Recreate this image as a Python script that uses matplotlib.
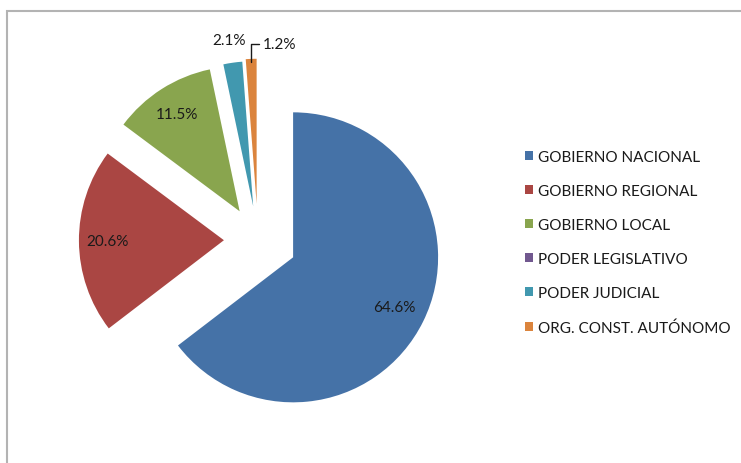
import numpy as np
import matplotlib.pyplot as plt
from matplotlib.patches import Rectangle, Patch

plt.rcParams['font.family'] = ['Lato', 'DejaVu Sans']

categorias = ["GOBIERNO NACIONAL", "GOBIERNO REGIONAL", "GOBIERNO LOCAL",
              "PODER LEGISLATIVO", "PODER JUDICIAL", "ORG. CONST. AUTÓNOMO"]
porcentajes = [64.6, 20.6, 11.5, 0.0, 2.1, 1.2]
etiquetas = ["64.6%", "20.6%", "11.5%", "", "2.1%", "1.2%"]
colores = ["#4572A7", "#AA4643", "#89A54E", "#71588F", "#4198AF", "#DB843D"]
explode = [0.27, 0.235, 0.235, 0.235, 0.235, 0.25]

W, H = 741, 464
cx, cy, R = 258, 241, 145

fig = plt.figure(figsize=(W / 100, H / 100), dpi=100)
fig.patches.append(Rectangle((7 / W, -0.1), 1.2, 1 - 12 / H + 0.1,
                             transform=fig.transFigure, fill=False,
                             edgecolor="#b3b3b3", linewidth=1.5))

ax = fig.add_axes([0, 0, 1, 1])
ax.axis("off")

wedges, _ = ax.pie(porcentajes, colors=colores, explode=explode,
                   startangle=90, counterclock=False, radius=1,
                   wedgeprops=dict(linewidth=0))
ax.set_aspect("auto")
ax.set_xlim(-cx / R, (W - cx) / R)
ax.set_ylim(-(H - cy) / R, cy / R)

dist = [0.78, 0.80, 0.80, 0, 1.16, 1.0]
for i, w in enumerate(wedges):
    if not etiquetas[i]:
        continue
    ang = np.deg2rad((w.theta1 + w.theta2) / 2)
    x0, y0 = w.center
    if i == 5:
        tip = (x0 + np.cos(ang) * 0.98, y0 + np.sin(ang) * 0.98)
        ax.annotate(etiquetas[i], xy=tip, xytext=(tip[0] + 0.08, tip[1] + 0.12),
                    ha="left", va="center", fontsize=11, color="#1a1a1a",
                    arrowprops=dict(arrowstyle="-", color="#1a1a1a", lw=1,
                                    shrinkA=1, shrinkB=0,
                                    connectionstyle="angle,angleA=0,angleB=90,rad=0"))
    else:
        ax.text(x0 + np.cos(ang) * dist[i], y0 + np.sin(ang) * dist[i],
                etiquetas[i], ha="center", va="center", fontsize=11, color="#1a1a1a")

handles = [Patch(facecolor=c, edgecolor="none") for c in colores]
fig.legend(handles, categorias, loc="upper left",
           bbox_to_anchor=(525 / W, 1 - 151 / H), frameon=False,
           fontsize=11, handlelength=0.5, handleheight=0.5,
           handletextpad=0.35, labelspacing=1.31, borderaxespad=0,
           borderpad=0, labelcolor="#1a1a1a")

fig.savefig("out.png", dpi=100)
